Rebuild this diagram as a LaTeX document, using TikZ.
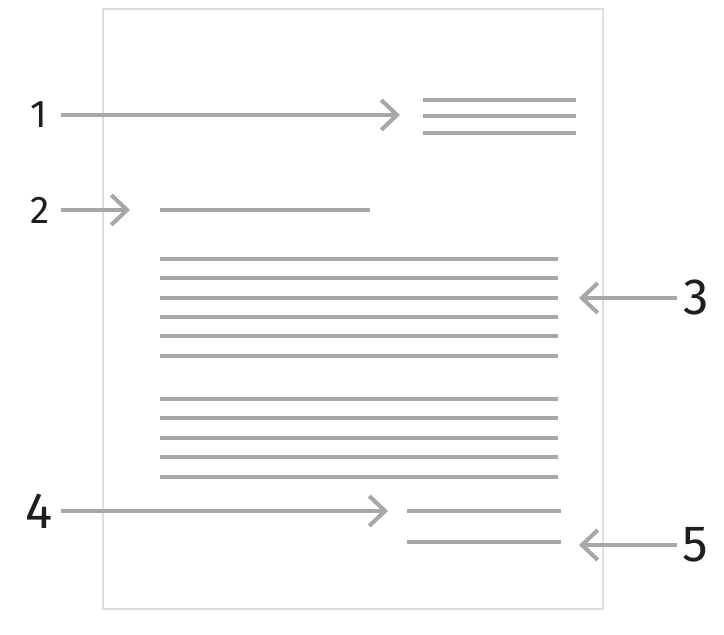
\documentclass[tikz,border=0pt]{standalone}
\usepackage{fontspec}
\setmainfont{Fira Sans}
\usetikzlibrary{arrows.meta}
\definecolor{linegray}{RGB}{166,166,171}
\definecolor{pagegray}{RGB}{222,222,224}
\definecolor{numblack}{RGB}{30,30,30}
\begin{document}
\begin{tikzpicture}[x=0.02cm,y=-0.02cm,
  txt/.style={draw=linegray,line width=2.3pt},
  ptr/.style={draw=linegray,line width=2.3pt,-{Straight Barb[length=9pt,width=17pt,line width=2.3pt]}},
  small/.style={text=numblack,font=\fontsize{22}{22}\selectfont,inner sep=0pt},
  big/.style={text=numblack,font=\fontsize{29}{29}\selectfont,inner sep=0pt}]
\useasboundingbox (0,0) rectangle (724,635);
% page
\draw[pagegray,line width=0.6pt] (103,9) rectangle (603,609);

% text lines
\foreach \y in {100,116,133}
  \draw[txt] (423,\y) -- (576,\y);
\draw[txt] (160,210) -- (370,210);
\foreach \y in {259,278,298,317,336,356}
  \draw[txt] (160,\y) -- (558,\y);
\foreach \y in {399,418,438,457,477}
  \draw[txt] (160,\y) -- (558,\y);
\draw[txt] (407,511) -- (561,511);
\draw[txt] (407,542) -- (561,542);

% labels
\node[small,anchor=east] (n1) at (48,115) {1};
\node[small,anchor=east] (n2) at (50,210) {2};
\node[big,anchor=west] (n3) at (683,298) {3};
\node[big,anchor=east] (n4) at (53,511) {4};
\node[big,anchor=west] (n5) at (682,545) {5};

\coordinate (a1) at (400,115);
\coordinate (a2) at (130,210);
\coordinate (a3) at (579,298);
\coordinate (a4) at (388,511);
\coordinate (a5) at (579,545);

\draw[ptr] (n1.east) ++(13,0) -- (a1);
\draw[ptr] (n2.east) ++(11,0) -- (a2);
\draw[ptr] (n3.west) ++(-6,0) -- (a3);
\draw[ptr] (n4.east) ++(8,0) -- (a4);
\draw[ptr] (n5.west) ++(-5,0) -- (a5);
\end{tikzpicture}
\end{document}
